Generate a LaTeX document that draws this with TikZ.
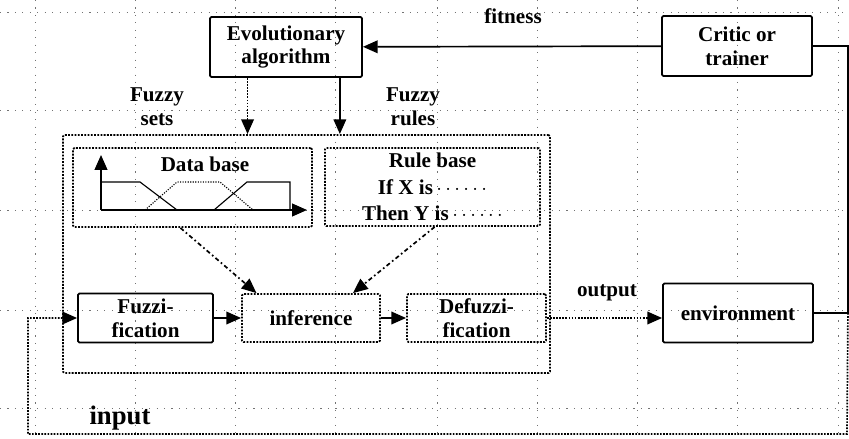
\documentclass[tikz,border=0pt]{standalone}
\usepackage{fontspec}
\setmainfont{Liberation Serif}
\usetikzlibrary{arrows.meta,calc}
\newcommand{\boxfont}{\fontsize{15}{17}\selectfont\bfseries}
\newcommand{\inputfont}{\fontsize{19}{21}\selectfont\bfseries}
\begin{document}
\begin{tikzpicture}[x=0.025cm,y=-0.025cm,
  every node/.style={font=\boxfont},
  blk/.style={draw,line width=1.3pt,rounded corners=1pt,inner sep=0pt,align=center},
  dblk/.style={blk,densely dotted},
  arr/.style={line width=1.2pt,-{Triangle[length=10.5pt,width=9pt]}},
  gridline/.style={black!55,line width=0.6pt,dash pattern=on 0.8pt off 4.5pt}]
  \useasboundingbox (0,0) rectangle (849,439);
  % background grid
  \foreach \y in {12,110,210,310,408}
    \draw[gridline] (0,\y) -- (849,\y);
  \foreach \x in {35,135,235,335,437,537,637,737,838}
    \draw[gridline] (\x,0) -- (\x,439);
  %
  % boxes
  \draw (286,47) node[blk,minimum width=3.8cm,minimum height=1.5cm] (evo) {Evolutionary\\algorithm};
  \draw (737,46) node[blk,minimum width=3.75cm,minimum height=1.5cm] (critic) {Critic or\\trainer};
  \draw (306.5,254) node[dblk,minimum width=12.175cm,minimum height=5.95cm] (fls) {};
  \draw (192.5,187.5) node[dblk,minimum width=5.975cm,minimum height=1.975cm] (db) {};
  \draw (432.5,187) node[dblk,minimum width=5.375cm,minimum height=1.95cm,
    font=\fontsize{15}{19}\selectfont\bfseries] (rb) {Rule base\\If X is\,$\cdots\cdots$\\Then Y is\,$\cdots\cdots$};
  \draw (145.5,318) node[blk,minimum width=3.375cm,minimum height=1.225cm] (fuzz) {Fuzzi-\\fication};
  \draw (311,318) node[dblk,minimum width=3.45cm,minimum height=1.2cm] (infer) {inference};
  \draw (476.5,318) node[dblk,minimum width=3.475cm,minimum height=1.2cm] (defuzz) {Defuzzi-\\fication};
  \draw (738,313) node[blk,minimum width=3.75cm,minimum height=1.475cm] (env) {environment};
  %
  % data base contents
  \draw (205,164) node (dbt) {Data base};
  \coordinate (o) at (101,210);
  \draw[arr] (o) -- (101,155);
  \draw[arr] (o) -- (307,210);
  \draw[thick] (101,182) -- (140,182) -- (177,210);
  \draw[thick,densely dotted] (145,210) -- (177,182) -- (220,182) -- (253,210);
  \draw[thick] (214,210) -- (247,182) -- (290,182) -- (290,210);
  %
  % labels
  \draw (513,16) node (fit) {fitness};
  \draw (157,107) node[align=center] (fs) {Fuzzy\\sets};
  \draw (413,107) node[align=center] (fr) {Fuzzy\\rules};
  \draw (607,293) node (out) {output};
  \draw (120,418) node[font=\inputfont] (inp) {input};
  %
  % connectors
  \coordinate (ea) at ($(evo.south west)!0.25!(evo.south east)$);
  \coordinate (eb) at ($(evo.south west)!0.85!(evo.south east)$);
  \coordinate (ne) at ($(critic.east)+(35,0)$);
  \coordinate (se) at (847,434);
  \coordinate (sw) at (28,434);
  \path[arr]
    (critic) edge (evo)
    (fuzz) edge (infer)
    (infer) edge (defuzz);
  \draw[arr,densely dotted] (ea) -- (ea |- fls.north);
  \draw[arr] (eb) -- (eb |- fls.north);
  \draw[arr,dash dot] ($(db.south west)!0.45!(db.south east)$) -- ($(infer.north west)!0.11!(infer.north east)$);
  \draw[arr,dash dot] ($(rb.south west)!0.51!(rb.south east)$) -- ($(infer.north west)!0.8!(infer.north east)$);
  \draw[arr,densely dotted] (defuzz.east) -- (defuzz.east -| env.west);
  % feedback loops
  \draw[line width=1.2pt] (env.east) -- (env.east -| ne) -- (ne) -- (critic.east);
  \draw[arr,densely dotted] (env.east -| ne) -- (se) -- (sw) -- (sw |- fuzz.west) -- (fuzz.west);
\end{tikzpicture}
\end{document}
